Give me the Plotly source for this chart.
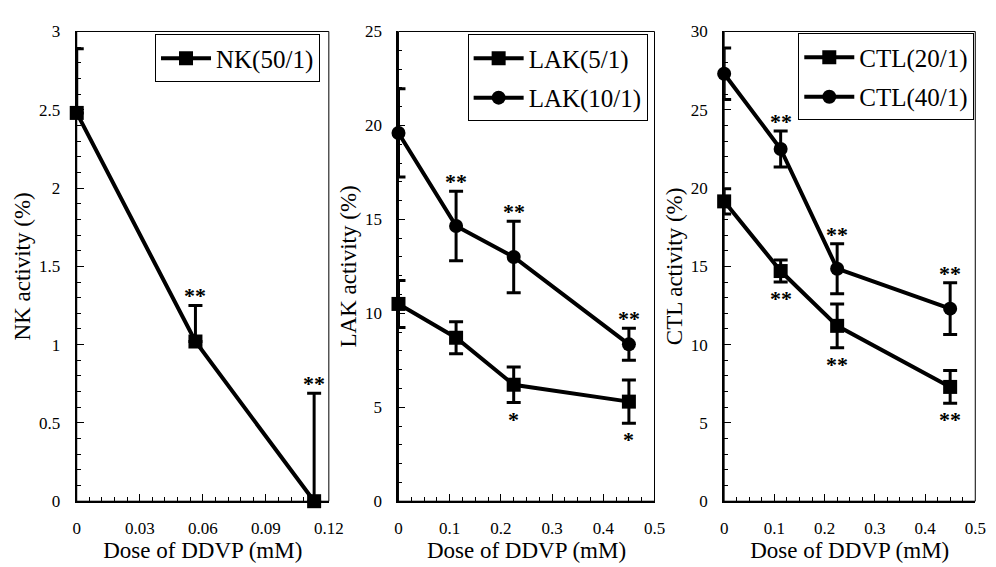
import plotly.graph_objects as go

# ---------------- data ----------------
dose_nk = [0, 0.0565, 0.113]
nk_50 = [2.48, 1.02, 0.0]
nk_50_err = [0.41, 0.23, 0.69]

dose = [0, 0.1125, 0.225, 0.45]
lak_5 = [10.5, 8.7, 6.2, 5.3]
lak_5_err = [1.25, 0.85, 0.95, 1.15]
lak_10 = [19.6, 14.65, 13.0, 8.35]
lak_10_err = [2.35, 1.85, 1.9, 0.85]

ctl_20 = [19.15, 14.7, 11.2, 7.3]
ctl_20_err = [0.8, 0.7, 1.4, 1.05]
ctl_40 = [27.3, 22.5, 14.85, 12.3]
ctl_40_err = [1.65, 1.15, 1.6, 1.65]

# significance marks: (index, mark)
nk_marks = [(1, "**"), (2, "**")]
lak5_marks = [(2, "*"), (3, "*")]
lak10_marks = [(1, "**"), (2, "**"), (3, "**")]
ctl20_marks = [(1, "**"), (2, "**"), (3, "**")]
ctl40_marks = [(1, "**"), (2, "**"), (3, "**")]

# ---------------- layout helpers ----------------
W, H = 996, 567
FONT = "Liberation Serif, Times New Roman, serif"


def px_x(p):
    return p / W


def px_y(p):
    return 1 - p / H


ytop, ybot = 15, 501
panels = [(66, 323), (394, 655), (726, 982)]

fig = go.Figure()


def add_series(x, y, err, symbol, name, xa, ya, legend, upper_only=False):
    ey = dict(type="data", array=err, color="black", thickness=3, width=7, visible=True)
    if upper_only:
        ey["symmetric"] = False
        ey["arrayminus"] = [0] * len(err)
    fig.add_trace(go.Scatter(
        x=x, y=y, mode="lines+markers", name=name,
        line=dict(color="black", width=4),
        marker=dict(symbol=symbol, size=14, color="black"),
        error_y=ey, xaxis=xa, yaxis=ya, legend=legend,
        legendgroup=name, cliponaxis=False,
    ))


add_series(dose_nk, nk_50, nk_50_err, "square", "NK(50/1)", "x", "y", "legend", upper_only=True)
add_series(dose, lak_5, lak_5_err, "square", "LAK(5/1)", "x2", "y2", "legend2")
add_series(dose, lak_10, lak_10_err, "circle", "LAK(10/1)", "x2", "y2", "legend2")
add_series(dose, ctl_20, ctl_20_err, "square", "CTL(20/1)", "x3", "y3", "legend3")
add_series(dose, ctl_40, ctl_40_err, "circle", "CTL(40/1)", "x3", "y3", "legend3")


def add_marks(x, y, err, marks, xref, yref, above):
    for i, m in marks:
        if above:
            fig.add_annotation(x=x[i], y=y[i] + err[i], xref=xref, yref=yref, text="<b>" + m + "</b>",
                               showarrow=False, yanchor="bottom", yshift=-5,
                               font=dict(family=FONT, size=22, color="black"))
        else:
            fig.add_annotation(x=x[i], y=y[i] - err[i], xref=xref, yref=yref, text="<b>" + m + "</b>",
                               showarrow=False, yanchor="top", yshift=-2,
                               font=dict(family=FONT, size=22, color="black"))


add_marks(dose_nk, nk_50, nk_50_err, nk_marks, "x", "y", True)
add_marks(dose, lak_5, lak_5_err, lak5_marks, "x2", "y2", False)
add_marks(dose, lak_10, lak_10_err, lak10_marks, "x2", "y2", True)
add_marks(dose, ctl_20, ctl_20_err, ctl20_marks, "x3", "y3", False)
add_marks(dose, ctl_40, ctl_40_err, ctl40_marks, "x3", "y3", True)

xcfg = [dict(range=[0, 0.12], dtick=0.03, minor=0.006),
        dict(range=[0, 0.5], dtick=0.1, minor=0.025),
        dict(range=[0, 0.5], dtick=0.1, minor=0.025)]
ycfg = [dict(range=[0, 3], dtick=0.5, minor=0.1, title="NK activity (%)"),
        dict(range=[0, 25], dtick=5, minor=1, title="LAK activity (%)"),
        dict(range=[0, 30], dtick=5, minor=1, title="CTL activity (%)")]

layout = dict(
    width=W, height=H, margin=dict(l=0, r=0, t=0, b=0),
    paper_bgcolor="white", plot_bgcolor="white",
    font=dict(family=FONT, color="black"),
    showlegend=True,
)

for k in range(3):
    sx = "" if k == 0 else str(k + 1)
    x0, x1 = panels[k]
    layout["xaxis" + sx] = dict(
        domain=[px_x(x0), px_x(x1)], range=xcfg[k]["range"], dtick=xcfg[k]["dtick"],
        tick0=0, anchor="y" + sx, showgrid=False, zeroline=False,
        showline=True, linecolor="black", linewidth=2,
        ticks="inside", ticklen=7, tickwidth=1, tickcolor="black",
        minor=dict(dtick=xcfg[k]["minor"], ticks="inside", ticklen=4, tickcolor="black", showgrid=False),
        tickfont=dict(family=FONT, size=17, color="black"), ticklabelstandoff=10,
        title=dict(text="Dose of DDVP (mM)", font=dict(family=FONT, size=23, color="black"), standoff=5),
    )
    layout["yaxis" + sx] = dict(
        domain=[px_y(ybot), px_y(ytop)], range=ycfg[k]["range"], dtick=ycfg[k]["dtick"],
        tick0=0, anchor="x" + sx, showgrid=False, zeroline=False,
        showline=True, linecolor="black", linewidth=2,
        ticks="inside", ticklen=7, tickwidth=1, tickcolor="black",
        minor=dict(dtick=ycfg[k]["minor"], ticks="inside", ticklen=4, tickcolor="black", showgrid=False),
        tickfont=dict(family=FONT, size=17, color="black"), ticklabelstandoff=11,
        title=dict(text=ycfg[k]["title"], font=dict(family=FONT, size=23, color="black"), standoff=2),
    )

legend_pos = [(314, 18), (648, 18), (981, 17)]
for k, (lx, ly) in enumerate(legend_pos):
    key = "legend" if k == 0 else "legend" + str(k + 1)
    layout[key] = dict(
        x=px_x(lx), y=px_y(ly), xanchor="right", yanchor="top",
        bgcolor="white", bordercolor="black", borderwidth=1,
        font=dict(family=FONT, size=25, color="black"),
        traceorder="grouped", tracegroupgap=4, itemwidth=50,
    )

fig.update_layout(**layout)

# thin frame around each plot area
for k in range(3):
    sx = "" if k == 0 else str(k + 1)
    fig.add_shape(type="rect", xref="x" + sx + " domain", yref="y" + sx + " domain",
                  x0=0, x1=1, y0=0, y1=1, line=dict(color="black", width=1), layer="below")

fig.write_html("out.html")
